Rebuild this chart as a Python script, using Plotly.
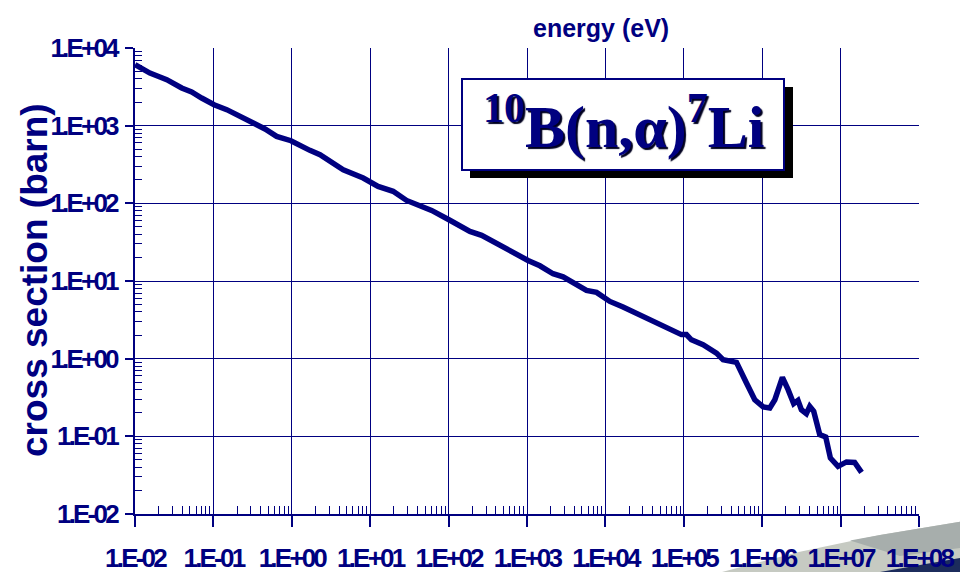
import plotly.graph_objects as go

# ---------------- data ----------------
energy_eV = [0.0100, 0.0155, 0.0208, 0.0254, 0.0394, 0.0528, 0.0708, 0.102, 0.148, 0.253,
             0.339, 0.455, 0.641, 0.975, 1.70, 2.29, 4.53, 6.07, 8.15, 12.6,
             19.6, 29.1, 47.4, 60.7, 101, 187, 264, 409, 550, 1030,
             1460, 2150, 2890, 5740, 7710, 11400, 16800, 27500, 44900, 66200,
             93300, 1.08e5, 1.25e5, 1.76e5, 2.61e5, 3.17e5, 4.70e5, 6.30e5, 8.04e5, 1.03e6,
             1.25e6, 1.45e6, 1.81e6, 2.14e6, 2.52e6, 2.86e6, 3.16e6, 3.66e6, 4.04e6, 4.54e6,
             5.42e6, 6.46e6, 7.41e6, 9.27e6, 1.19e7, 1.51e7, 1.85e7]
sigma_barn = [6100, 4760, 4240, 3910, 3055, 2716, 2270, 1862, 1607, 1219,
              1081, 906, 728, 640, 481, 423, 271, 239, 212, 165,
              143, 109, 89.7, 81.1, 61.5, 43.5, 38.7, 30.2, 26.6, 18.4,
              15.7, 12.4, 11.3, 7.57, 7.13, 5.46, 4.62, 3.61, 2.82, 2.36,
              2.04, 2.04, 1.75, 1.51, 1.18, 0.970, 0.895, 0.486, 0.296, 0.239,
              0.232, 0.296, 0.574, 0.399, 0.263, 0.290, 0.220, 0.196, 0.243, 0.210,
              0.105, 0.0981, 0.0526, 0.0410, 0.0468, 0.0462, 0.0344]

x_tick_vals = [1e-2, 1e-1, 1e0, 1e1, 1e2, 1e3, 1e4, 1e5, 1e6, 1e7, 1e8]
x_tick_text = ["1.E-02", "1.E-01", "1.E+00", "1.E+01", "1.E+02", "1.E+03",
               "1.E+04", "1.E+05", "1.E+06", "1.E+07", "1.E+08"]
y_tick_vals = [1e-2, 1e-1, 1e0, 1e1, 1e2, 1e3, 1e4]
y_tick_text = ["1.E-02", "1.E-01", "1.E+00", "1.E+01", "1.E+02", "1.E+03", "1.E+04"]

x_title = "energy (eV)"
y_title = "cross section (barn)"
box_title = "<sup>10</sup>B(n,α)<sup>7</sup>Li"

# ---------------- styling ----------------
NAVY = "#000080"
W, H = 960, 572
ML, MR, MT, MB = 135, 41, 48, 58
PW, PH = W - ML - MR, H - MT - MB


def px(xp, yp):
    """pixel position -> paper coordinates (for decorations only)"""
    return (xp - ML) / PW, (H - MB - yp) / PH


def squeeze(t, ls=-2.8):
    return '<span style="letter-spacing:%spx">%s</span>' % (ls, t)


def minor_vals(lo, hi):
    out = []
    for e in range(lo, hi):
        for k in range(2, 10):
            out.append(k * 10 ** e)
    return out


fig = go.Figure()
fig.add_trace(go.Scatter(x=energy_eV, y=sigma_barn, mode="lines",
                         line=dict(color=NAVY, width=5.5), hoverinfo="skip",
                         showlegend=False))

tickfont = dict(family="Liberation Sans, Arial, sans-serif", size=26, color=NAVY, weight="bold")

fig.update_xaxes(type="log", range=[-2, 8],
                 tickmode="array", tickvals=x_tick_vals,
                 ticktext=[squeeze(t) for t in x_tick_text],
                 tickfont=tickfont, ticks="outside", ticklen=11, tickwidth=1.5,
                 tickcolor=NAVY, ticklabelstandoff=9,
                 showgrid=True, gridcolor=NAVY, gridwidth=1.3,
                 showline=True, linecolor=NAVY, linewidth=2, zeroline=False,
                 minor=dict(tickmode="array", tickvals=minor_vals(-2, 8), ticks="inside",
                            ticklen=8, tickwidth=1.3, tickcolor=NAVY, showgrid=False))
fig.update_yaxes(type="log", range=[-2, 4],
                 tickmode="array", tickvals=y_tick_vals,
                 ticktext=[squeeze(t) for t in y_tick_text],
                 tickfont=tickfont, ticks="outside", ticklen=8, tickwidth=1.5,
                 tickcolor=NAVY, ticklabelstandoff=3,
                 showgrid=True, gridcolor=NAVY, gridwidth=1.3,
                 showline=True, linecolor=NAVY, linewidth=2, zeroline=False,
                 minor=dict(tickmode="array", tickvals=minor_vals(-2, 4), ticks="inside",
                            ticklen=7, tickwidth=1.3, tickcolor=NAVY, showgrid=False))

shapes = []
# grey swoosh at bottom right
sw_pts = [(722, 572), (800, 551.7), (880, 535), (960, 521.7), (960, 572)]
path = "M " + " L ".join("%f,%f" % px(a, b) for a, b in sw_pts) + " Z"
shapes.append(dict(type="path", xref="paper", yref="paper", path=path,
                   fillcolor="#c6cac2", line=dict(width=0), layer="below"))
sw2 = [(850, 540.5), (880, 535), (960, 521.7), (960, 548), (900, 556)]
path2 = "M " + " L ".join("%f,%f" % px(a, b) for a, b in sw2) + " Z"
shapes.append(dict(type="path", xref="paper", yref="paper", path=path2,
                   fillcolor="#a7aeac", line=dict(width=0), layer="below"))
sw3 = [(880, 572), (960, 558), (960, 572)]
path3 = "M " + " L ".join("%f,%f" % px(a, b) for a, b in sw3) + " Z"
shapes.append(dict(type="path", xref="paper", yref="paper", path=path3,
                   fillcolor="#1c2c5c", line=dict(width=0), layer="below"))

# title box with shadow
sx0, sy0 = px(470, 178)
sx1, sy1 = px(793, 87)
shapes.append(dict(type="rect", xref="paper", yref="paper", x0=sx0, y0=sy0, x1=sx1, y1=sy1,
                   fillcolor="black", line=dict(width=0), layer="above"))
bx0, by0 = px(462, 170)
bx1, by1 = px(784, 79)
shapes.append(dict(type="rect", xref="paper", yref="paper", x0=bx0, y0=by0, x1=bx1, y1=by1,
                   fillcolor="white", line=dict(color=NAVY, width=2), layer="above"))

annotations = []
cx, cy = px(624, 122)
annotations.append(dict(text=box_title, xref="paper", yref="paper", x=cx, y=cy,
                        xanchor="center", yanchor="middle", showarrow=False,
                        font=dict(family="Liberation Serif, Times New Roman, serif", size=60,
                                  color=NAVY, weight="bold", shadow="2px 2px 1px #000020")))
tx, ty = px(601, 28)
annotations.append(dict(text=x_title, xref="paper", yref="paper", x=tx, y=ty,
                        xanchor="center", yanchor="middle", showarrow=False,
                        font=dict(family="Liberation Sans, Arial, sans-serif", size=25,
                                  color=NAVY, weight="bold")))
yx, yy = px(34, 280)
annotations.append(dict(text=y_title, xref="paper", yref="paper", x=yx, y=yy,
                        xanchor="center", yanchor="middle", showarrow=False, textangle=-90,
                        font=dict(family="Liberation Sans, Arial, sans-serif", size=37,
                                  color=NAVY, weight="bold")))

fig.update_layout(width=W, height=H, margin=dict(l=ML, r=MR, t=MT, b=MB, autoexpand=False),
                  paper_bgcolor="white", plot_bgcolor="white",
                  shapes=shapes, annotations=annotations, showlegend=False)

fig.write_html("out.html", config={"displayModeBar": False},
               post_script="document.body.style.margin='0';")
